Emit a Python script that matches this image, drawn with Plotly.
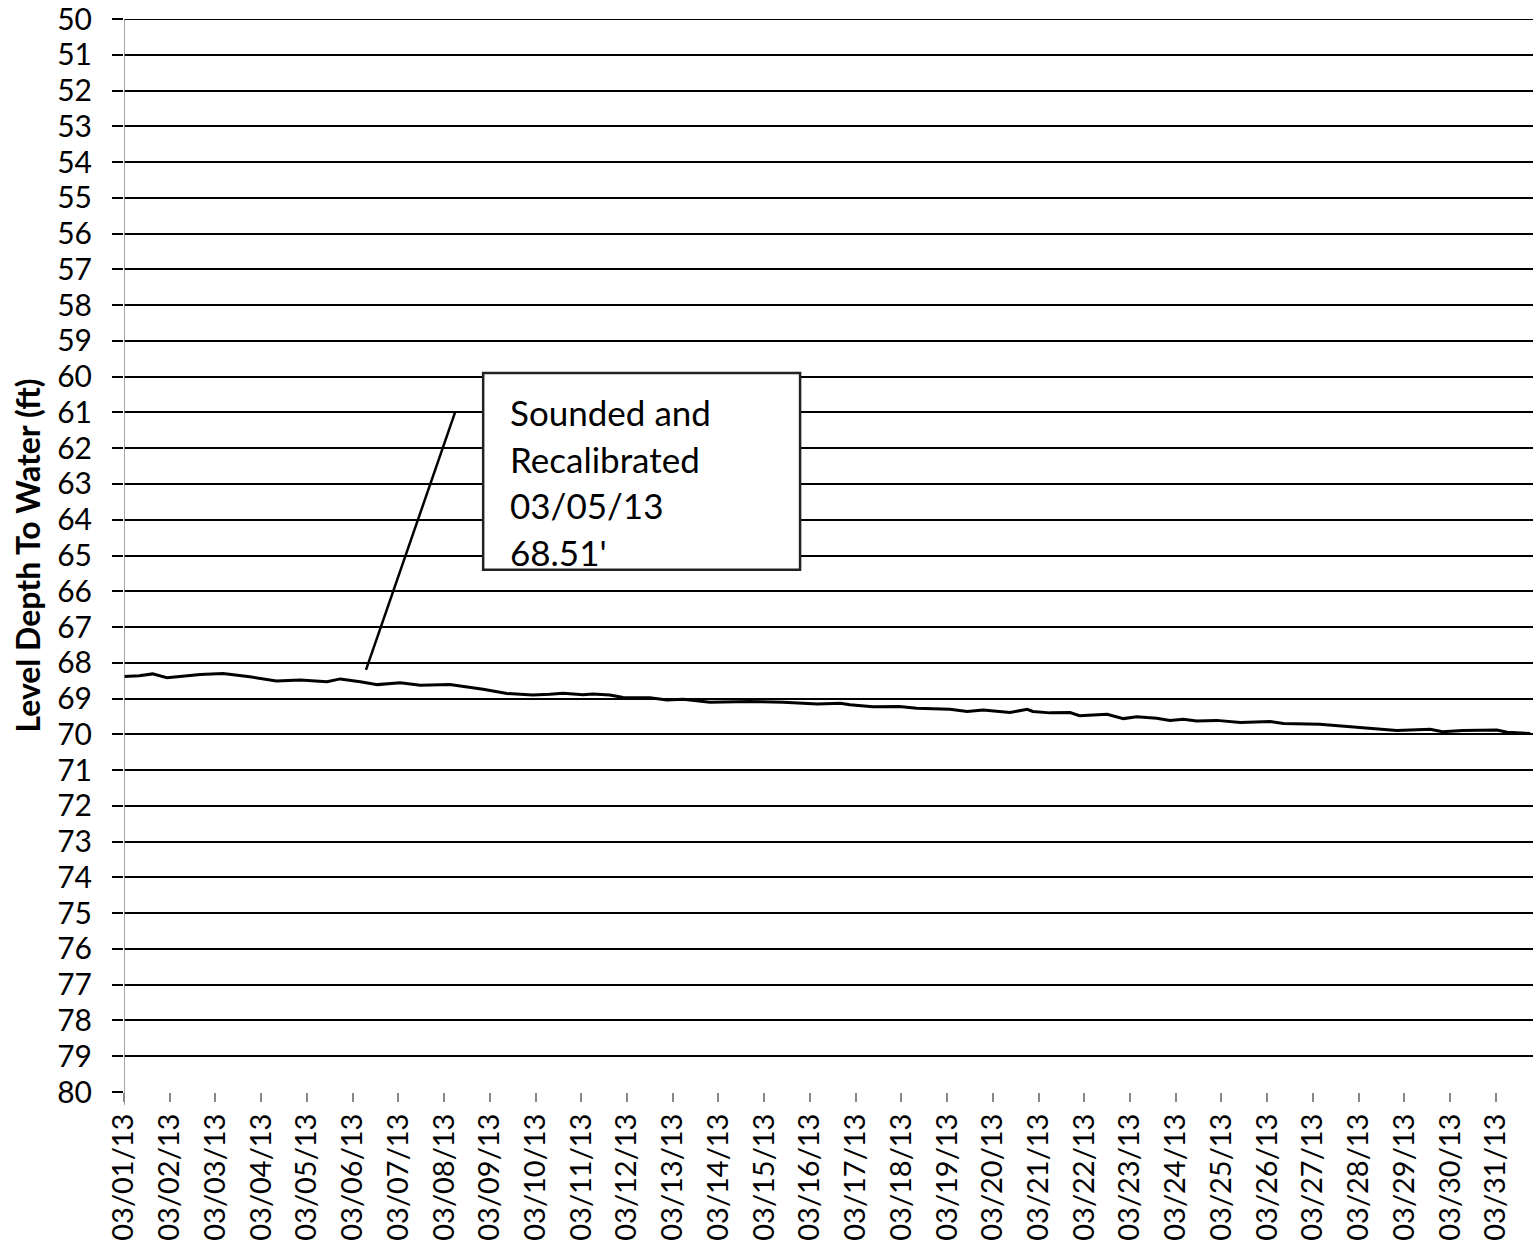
import plotly.graph_objects as go
import pandas as pd

# Water level readings (timestamp, depth to water in ft)
times = [
    "2013-03-01 00:00", "2013-03-01 08:00", "2013-03-01 15:00", "2013-03-01 22:30",
    "2013-03-02 08:00", "2013-03-02 16:00", "2013-03-03 04:00", "2013-03-03 18:00",
    "2013-03-04 08:00", "2013-03-04 20:30", "2013-03-05 10:30", "2013-03-05 17:30",
    "2013-03-06 04:00", "2013-03-06 13:00", "2013-03-07 01:00", "2013-03-07 11:30",
    "2013-03-08 03:00", "2013-03-08 12:00", "2013-03-08 20:30", "2013-03-09 09:00",
    "2013-03-09 22:30", "2013-03-10 07:30", "2013-03-10 14:30", "2013-03-11 01:00",
    "2013-03-11 06:00", "2013-03-11 15:00", "2013-03-11 22:00", "2013-03-12 12:00",
    "2013-03-12 21:00", "2013-03-13 05:30", "2013-03-13 19:30", "2013-03-14 16:30",
    "2013-03-15 10:00", "2013-03-16 04:00", "2013-03-16 16:00", "2013-03-16 21:00",
    "2013-03-17 09:00", "2013-03-17 23:00", "2013-03-18 08:00", "2013-03-19 01:30",
    "2013-03-19 10:30", "2013-03-19 19:00", "2013-03-20 09:00", "2013-03-20 18:00",
    "2013-03-20 21:00", "2013-03-21 06:00", "2013-03-21 16:30", "2013-03-21 21:30",
    "2013-03-22 12:00", "2013-03-22 20:30", "2013-03-23 03:30", "2013-03-23 14:00",
    "2013-03-23 21:00", "2013-03-24 04:00", "2013-03-24 11:00", "2013-03-24 21:30",
    "2013-03-25 10:00", "2013-03-26 01:30", "2013-03-26 08:30", "2013-03-27 03:30",
    "2013-03-27 18:00", "2013-03-28 02:00", "2013-03-28 12:30", "2013-03-28 20:00",
    "2013-03-29 13:30", "2013-03-29 20:00", "2013-03-30 06:30", "2013-03-31 00:30",
    "2013-03-31 06:00", "2013-03-31 18:00",
]
depth = [
    68.38, 68.36, 68.31, 68.42,
    68.37, 68.33, 68.30, 68.39,
    68.51, 68.48, 68.53, 68.45,
    68.53, 68.61, 68.56, 68.63,
    68.61, 68.68, 68.74, 68.86,
    68.90, 68.88, 68.85, 68.89,
    68.87, 68.90, 68.97, 68.98,
    69.04, 69.02, 69.10, 69.08,
    69.10, 69.15, 69.13, 69.17,
    69.23, 69.22, 69.27, 69.30,
    69.36, 69.32, 69.39, 69.30,
    69.36, 69.40, 69.39, 69.48,
    69.44, 69.56, 69.51, 69.55,
    69.61, 69.58, 69.63, 69.61,
    69.67, 69.64, 69.70, 69.72,
    69.78, 69.81, 69.86, 69.89,
    69.86, 69.93, 69.89, 69.88,
    69.94, 69.98,
]

y_ticks = list(range(50, 81))
x_range = ["2013-03-01 00:00", "2013-03-31 19:30"]
y_top = 50

note_lines = ["Sounded and", "Recalibrated", "03/05/13", "68.51'"]
note_line_y = [61.0, 62.3, 63.6, 64.9]
note_box_x = ["2013-03-08 20:30", "2013-03-15 18:50"]
note_box_y = [59.9, 65.4]
note_text_x = "2013-03-09 09:30"
leader_x = ["2013-03-08 05:45", "2013-03-06 07:00"]
leader_y = [61.0, 68.2]

FONT = "Lato"

fig = go.Figure()
fig.add_trace(go.Scatter(
    x=pd.to_datetime(times), y=depth, mode="lines",
    line=dict(color="black", width=3), showlegend=False,
))

# Top gridline (plotly omits the gridline at the range edge)
fig.add_shape(type="line", x0=0, x1=1, y0=y_top, y1=y_top, xref="paper", yref="y",
              line=dict(color="black", width=2), layer="below")

# Leader line
fig.add_shape(type="line", x0=leader_x[0], y0=leader_y[0], x1=leader_x[1], y1=leader_y[1],
              xref="x", yref="y", line=dict(color="black", width=2.5))
# Note box
fig.add_shape(type="rect", x0=note_box_x[0], x1=note_box_x[1], y0=note_box_y[0], y1=note_box_y[1],
              xref="x", yref="y", line=dict(color="#222", width=2.5), fillcolor="white")
for txt, yy in zip(note_lines, note_line_y):
    fig.add_annotation(x=note_text_x, y=yy, text=txt, showarrow=False,
                       xanchor="left", yanchor="middle", align="left",
                       font=dict(family=FONT, size=35, color="black"))

# Vertical y-axis line (gray)
fig.add_shape(type="line", x0=x_range[0], x1=x_range[0], y0=-0.012, y1=1, xref="x", yref="paper",
              line=dict(color="#888", width=1.5))

fig.update_layout(
    width=1533, height=1252,
    margin=dict(l=124, r=0, t=19, b=160, autoexpand=False),
    paper_bgcolor="white", plot_bgcolor="white",
    font=dict(family=FONT, color="black"),
    xaxis=dict(
        range=x_range, type="date",
        tickmode="linear", tick0="2013-03-01", dtick=86400000,
        tickformat="%m/%d/%y", tickangle=-90,
        tickfont=dict(family=FONT, size=29, color="black"),
        showgrid=False, zeroline=False,
        ticks="outside", ticklen=9, tickcolor="#888", tickwidth=1.5,
        showline=False, automargin=False, ticklabeloverflow="allow",
    ),
    yaxis=dict(
        range=[80, 50], tickmode="array", tickvals=y_ticks,
        ticktext=[str(v) for v in y_ticks],
        tickfont=dict(family=FONT, size=30, color="black"),
        showgrid=True, gridcolor="black", gridwidth=2,
        zeroline=False, showline=False,
        ticks="outside", ticklen=11, tickcolor="black", tickwidth=2,
        ticklabelstandoff=14, automargin=False, ticklabeloverflow="allow",
        title=dict(text="<b>Level Depth To Water (ft)</b>",
                   font=dict(family=FONT, size=32, color="black"), standoff=6),
    ),
)

fig.write_html(
    "out.html",
    config={"displayModeBar": False},
    post_script="document.body.style.margin='0';document.body.style.overflow='hidden';",
)
